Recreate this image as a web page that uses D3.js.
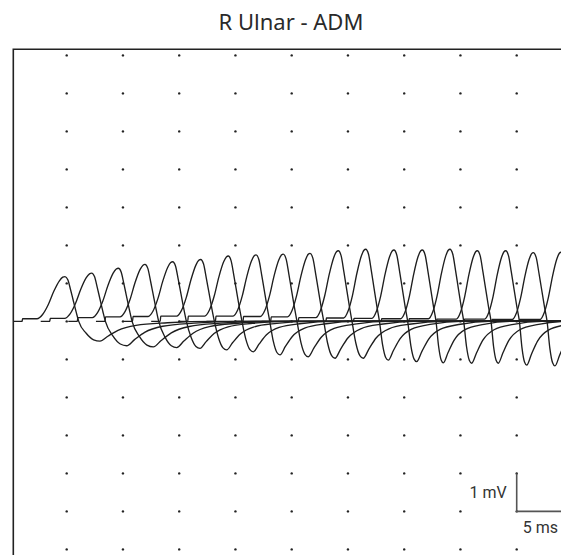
<!DOCTYPE html>
<html>
<head>
<meta charset="utf-8">
<script src="https://cdn.jsdelivr.net/npm/d3@7"></script>
<style>
  body { margin: 0; background: #fff; }
  svg { display: block; }
</style>
</head>
<body>
<div id="chart"></div>
<script>
// Values (time in ms, amplitude in mV)
var stimMs    = [1.03, 3.49, 5.94, 8.40, 10.85, 13.31, 15.76, 18.22, 20.67, 23.13, 25.58, 28.04, 30.49, 32.95, 35.40, 37.86, 40.31, 42.77, 45.22];
var onsetMs   = [2.36, 4.82, 7.28, 9.74, 12.24, 14.78, 17.27, 19.79, 22.21, 24.63, 27.14, 29.62, 32.13, 34.70, 37.16, 39.63, 42.15, 44.61, 47.07];
var peakMs    = [4.85, 7.22, 9.59, 11.96, 14.42, 16.91, 19.36, 21.83, 24.25, 26.63, 29.14, 31.58, 34.09, 36.61, 39.07, 41.50, 44.02, 46.48, 48.94];
var peakMv    = [1.18, 1.27, 1.40, 1.50, 1.57, 1.63, 1.72, 1.75, 1.77, 1.79, 1.86, 1.90, 1.88, 1.88, 1.90, 1.86, 1.86, 1.81, 1.82];
var troughMs  = [7.96, 10.33, 12.70, 14.78, 16.85, 19.22, 21.59, 23.96, 26.48, 28.85, 31.36, 33.59, 36.11, 38.48, 41.00, 43.36, 45.89, 48.40, 50.80];
var troughMv  = [-0.52, -0.64, -0.67, -0.69, -0.71, -0.75, -0.80, -0.88, -0.93, -0.97, -0.97, -1.02, -1.06, -1.09, -1.10, -1.10, -1.15, -1.17, -1.18];
var plateauMv = [0.07, 0.08, 0.10, 0.12, 0.13, 0.14, 0.14, 0.14, 0.13, 0.12, 0.10, 0.09, 0.08, 0.07, 0.07, 0.06, 0.06, 0.05, 0.05];

// waveform shape
var riseAt  = [0.2, 0.4, 0.6, 0.8, 0.92],  riseVal  = [0.1, 0.33, 0.65, 0.9, 0.985];   // onset -> peak
var fallMs  = [0.25, 0.5, 0.7, 1.0, 1.22], fallVal  = [0.93, 0.7, 0.5, 0.2, 0];       // after peak
var dipAt   = [0.35, 0.7],                 dipVal   = [0.6, 0.93];                    // crossing -> trough
var recovMs = [0.7, 1.6, 3.2, 6.0, 10.0],  recovVal = [0.75, 0.45, 0.2, 0.07, 0];     // after trough (first trace)

var gridMs = [5, 10, 15, 20, 25, 30, 35, 40, 45];
var gridMv = [7, 6, 5, 4, 3, 2, 1, 0, -1, -2, -3, -4, -5, -6];

var W = 561, H = 555;
var frame = {left: 13.3, top: 49.3};

var svg = d3.select("#chart").append("svg")
    .attr("width", W)
    .attr("height", H);

// 5 ms per division, 1 mV per division
var x = d3.scaleLinear().domain([0, 50]).range([10.45, 572.95]);
var y = d3.scaleLinear().domain([-7, 7]).range([587.4, 55.4]);

// title
svg.append("text")
    .attr("x", 291)
    .attr("y", 29.5)
    .attr("text-anchor", "middle")
    .style("font-family", "'Noto Sans', 'Open Sans', sans-serif")
    .style("font-size", "22px")
    .style("fill", "#2a2a2a")
    .text("R Ulnar - ADM");

// frame (runs off the right and bottom edges)
svg.append("path")
    .attr("d", "M" + frame.left + "," + (H + 5) + "V" + frame.top + "H" + (W + 5))
    .attr("fill", "none")
    .attr("stroke", "#222")
    .attr("stroke-width", 1.6);

// dotted grid
var dots = [];
gridMv.forEach(function(v) {
    gridMs.forEach(function(t) { dots.push([t, v]); });
});
svg.append("g").selectAll("circle")
    .data(dots)
  .enter().append("circle")
    .attr("cx", function(d) { return x(d[0]); })
    .attr("cy", function(d) { return y(d[1]); })
    .attr("r", 1.2)
    .attr("fill", "#222");

// build each trace from its read values
function tracePoints(i) {
    var pts = [];
    var s = stimMs[i], o = onsetMs[i], p = peakMs[i], t = troughMs[i];
    var a = peakMv[i], b = troughMv[i], pl = plateauMv[i];
    var c = p + fallMs[fallMs.length - 1];
    var w = (t - p) / (troughMs[0] - peakMs[0]);
    pts.push([s - 0.8, 0]);
    pts.push([s, 0]);
    pts.push([s + 0.05, pl]);
    pts.push([o, pl]);
    riseAt.forEach(function(f, k) {
        pts.push([o + (p - o) * f, pl + (a - pl) * riseVal[k]]);
    });
    pts.push([p, a]);
    fallMs.forEach(function(dt, k) { pts.push([p + dt, a * fallVal[k]]); });
    dipAt.forEach(function(f, k) { pts.push([c + (t - c) * f, b * dipVal[k]]); });
    pts.push([t, b]);
    recovMs.forEach(function(dt, k) { pts.push([t + dt * w, b * recovVal[k]]); });
    pts.push([Math.max(t + 12, 60), 0]);
    return pts;
}

var line = d3.line()
    .x(function(d) { return x(d[0]); })
    .y(function(d) { return y(d[1]); })
    .curve(d3.curveMonotoneX);

svg.append("defs").append("clipPath").attr("id", "plot")
  .append("rect")
    .attr("x", frame.left).attr("y", frame.top)
    .attr("width", W).attr("height", H);

svg.append("g")
    .attr("clip-path", "url(#plot)")
  .selectAll("path")
    .data(d3.range(peakMs.length))
  .enter().append("path")
    .attr("d", function(i) { return line(tracePoints(i)); })
    .attr("fill", "none")
    .attr("stroke", "#1e1e1e")
    .attr("stroke-width", 1.35)
    .attr("stroke-linejoin", "round");

// calibration bar: 1 mV / 5 ms
var cal = svg.append("g");
cal.append("path")
    .attr("d", "M" + x(45) + "," + y(-4) + "V" + y(-5) + "H" + x(50))
    .attr("fill", "none")
    .attr("stroke", "#555")
    .attr("stroke-width", 1.6);
cal.append("text")
    .attr("x", x(45) - 10)
    .attr("y", y(-4.5) + 5.5)
    .attr("text-anchor", "end")
    .style("font-family", "Roboto, sans-serif")
    .style("font-size", "16px")
    .style("fill", "#333")
    .text("1 mV");
cal.append("text")
    .attr("x", x(45) + 6)
    .attr("y", y(-5) + 22)
    .style("font-family", "Roboto, sans-serif")
    .style("font-size", "16px")
    .style("fill", "#333")
    .text("5 ms");
</script>
</body>
</html>
